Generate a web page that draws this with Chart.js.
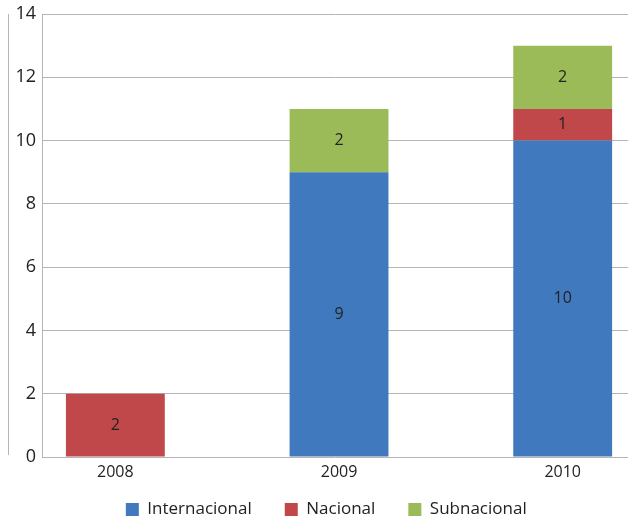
<!DOCTYPE html>
<html>
<head>
<meta charset="utf-8">
<script src="https://cdn.jsdelivr.net/npm/chart.js@4/dist/chart.umd.min.js"></script>
<style>
html,body{margin:0;padding:0;background:#fff;overflow:hidden;}
#wrap{width:628px;height:517px;position:relative;}
</style>
</head>
<body>
<div id="wrap"><canvas id="c"></canvas></div>
<script>
const categories = ['2008', '2009', '2010'];
const internacional = [0, 9, 10];
const nacional = [2, 0, 1];
const subnacional = [0, 2, 2];
const yTicks = [0, 2, 4, 6, 8, 10, 12, 14];

const toPts = arr => arr.map((v, i) => ({x: i, y: v}));
const FONT = "'Open Sans', 'DejaVu Sans', sans-serif";

const labelPlugin = {
  id: 'barLabels',
  afterDatasetsDraw(chart) {
    const ctx = chart.ctx;
    ctx.save();
    ctx.font = '16px ' + FONT;
    ctx.fillStyle = '#222';
    ctx.textAlign = 'center';
    ctx.textBaseline = 'middle';
    chart.data.datasets.forEach((ds, di) => {
      const meta = chart.getDatasetMeta(di);
      meta.data.forEach((el, i) => {
        const v = ds.data[i].y;
        if (!v) return;
        const p = el.getProps(['x', 'y', 'base'], true);
        ctx.fillText(String(v), p.x, (p.y + p.base) / 2);
      });
    });
    ctx.restore();
  }
};

const framePlugin = {
  id: 'frame',
  beforeDraw(chart) {
    const ctx = chart.ctx;
    const a = chart.chartArea;
    ctx.save();
    ctx.strokeStyle = '#b5b5b5';
    ctx.lineWidth = 1;
    ctx.beginPath();
    ctx.moveTo(8.5, a.top);
    ctx.lineTo(8.5, a.bottom - 2);
    ctx.stroke();
    ctx.restore();
  }
};

// Let the legend keep wide horizontal item spacing while sitting close under the axis
const legendShift = {
  id: 'legendShift',
  afterLayout(chart) {
    const lg = chart.legend;
    if (!lg) return;
    lg.top = chart.height - 49;
    lg.height = lg.bottom - lg.top;
    lg.left = 24.5;
    lg.width = lg.right - lg.left;
  }
};

new Chart(document.getElementById('c'), {
  type: 'bar',
  data: {
    datasets: [
      {label: 'Internacional', data: toPts(internacional), backgroundColor: '#4079BD'},
      {label: 'Nacional', data: toPts(nacional), backgroundColor: '#C0474A'},
      {label: 'Subnacional', data: toPts(subnacional), backgroundColor: '#9BBB59'}
    ]
  },
  options: {
    responsive: true,
    maintainAspectRatio: false,
    animation: false,
    categoryPercentage: 1,
    barPercentage: 0.442,
    layout: {padding: {top: 0, left: 0, right: 0, bottom: 0}},
    scales: {
      x: {
        type: 'linear',
        stacked: true,
        offset: false,
        min: -0.328,
        max: 2.292,
        afterBuildTicks(scale) { scale.ticks = categories.map((c, i) => ({value: i})); },
        afterFit(scale) { scale.height = 24; },
        grid: {display: false, drawTicks: false, offset: false},
        border: {display: false},
        ticks: {
          callback: (v) => categories[v] !== undefined ? categories[v] : '',
          font: {family: FONT, size: 16},
          color: '#222',
          padding: 6,
          maxRotation: 0,
          autoSkip: false
        }
      },
      y: {
        stacked: true,
        min: 0,
        max: 14,
        afterBuildTicks(scale) { scale.ticks = yTicks.map(v => ({value: v})); },
        afterFit(scale) { scale.width = 42; scale.paddingTop = 14; },
        grid: {color: '#b5b5b5', drawTicks: false, lineWidth: 1},
        border: {display: true, color: '#b5b5b5'},
        ticks: {
          font: {family: FONT, size: 18},
          color: '#222',
          padding: 6
        }
      }
    },
    plugins: {
      legend: {
        position: 'bottom',
        maxHeight: 36,
        labels: {
          font: {family: FONT, size: 17},
          color: '#222',
          boxWidth: 13,
          boxHeight: 13,
          padding: 33
        }
      },
      tooltip: {enabled: false}
    }
  },
  plugins: [labelPlugin, framePlugin, legendShift]
});
</script>
</body>
</html>
